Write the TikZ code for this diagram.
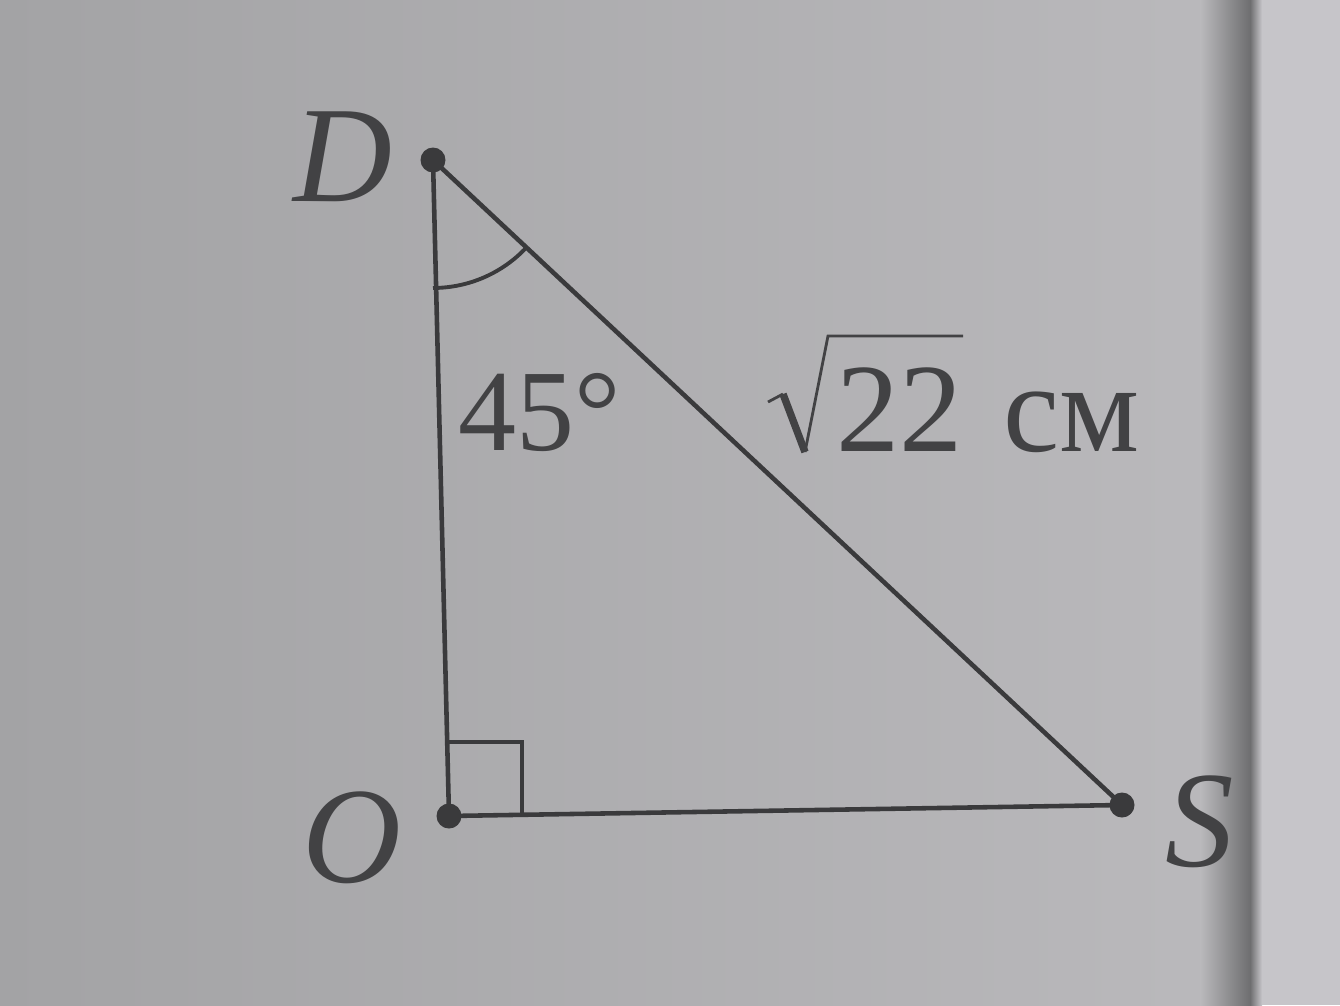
\documentclass[tikz,border=0pt]{standalone}
\usepackage{fontspec}
\setmainfont{Liberation Serif}
\definecolor{ink}{RGB}{58,58,60}
\definecolor{inktext}{RGB}{66,66,68}
\definecolor{paperL}{RGB}{163,163,165}
\definecolor{paperR}{RGB}{186,185,188}
\definecolor{edge}{RGB}{110,110,112}
\definecolor{beyond}{RGB}{198,197,201}
\begin{document}
\begin{tikzpicture}[x=0.02cm,y=-0.02cm,
  pt/.style={circle,fill=ink,inner sep=0pt,minimum size=0.5cm},
  side/.style={draw=ink,line width=2.6pt,line join=round},
  vlabel/.style={text=inktext,font=\fontsize{78}{80}\selectfont\itshape,inner sep=0pt},
  nlabel/.style={text=inktext,inner sep=0pt}]
\useasboundingbox (0,0) rectangle (1340,1005);
\shade[left color=paperL,right color=paperR] (0,0) rectangle (1235,1005);
\shade[left color=paperR,right color=edge] (1200,0) rectangle (1250,1005);
\shade[left color=edge,right color=beyond] (1250,0) rectangle (1262,1005);
\fill[beyond] (1262,0) rectangle (1340,1005);
% vertices
\node[pt] (D) at (433,160) {};
\node[pt] (O) at (449,816) {};
\node[pt] (S) at (1122,805) {};
% sides
\draw[side] (D.center) -- (O.center) -- (S.center) -- cycle;
% right angle mark
\coordinate (ra1) at (449,742);
\coordinate (ra2) at (522,742);
\coordinate (ra3) at (522,814);
\draw[draw=ink,line width=2.2pt] (ra1) -- (ra2) -- (ra3);
% angle arc at D
\draw[draw=ink,line width=2.2pt] ([shift={(-90:2.56cm)}]D.center) arc[start angle=-90,end angle=-43,radius=2.56cm];
% labels
\node[vlabel] (lD) at (343,157) {D};
\node[vlabel] (lO) at (352,838) {O};
\node[vlabel] (lS) at (1200,822) {S};
\node[nlabel,font=\fontsize{66}{68}\selectfont] (l45) at (540,412) {45°};
% radical sign
\coordinate (r0) at (768,402);
\coordinate (r1) at (783,394);
\coordinate (r2) at (805,452);
\coordinate (r3) at (828,336);
\coordinate (r4) at (963,336);
\draw[draw=inktext,line width=1.6pt,line join=miter] (r0) -- (r1);
\draw[draw=inktext,line width=4.2pt,line cap=butt] (r1) -- (r2);
\draw[draw=inktext,line width=1.6pt,line join=miter] (r2) -- (r3) -- (r4);
\node[nlabel,font=\fontsize{72}{74}\selectfont,anchor=base west] (lh) at (836,451) {22\hspace{0.32em}см};
\end{tikzpicture}
\end{document}
